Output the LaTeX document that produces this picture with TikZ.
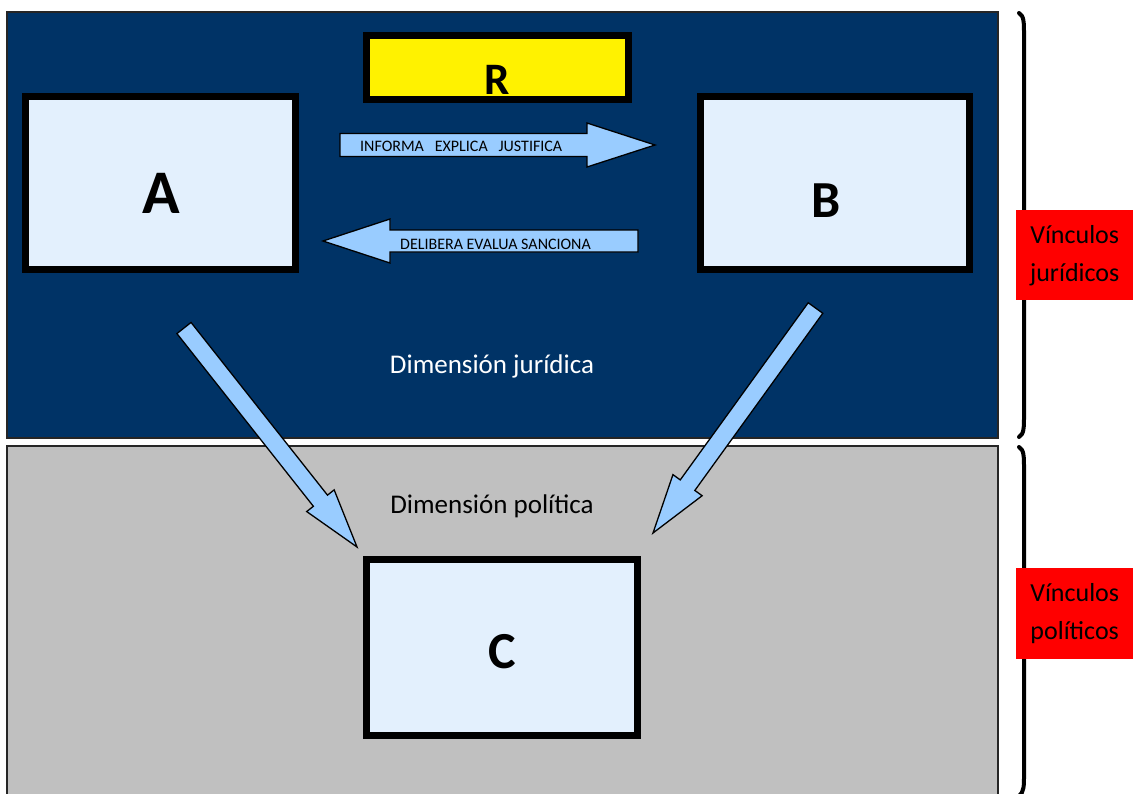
\documentclass[tikz,border=0pt]{standalone}
\usepackage{fontspec}
\setmainfont{Carlito}
\usetikzlibrary{calc}
\definecolor{navy}{RGB}{0,51,102}
\definecolor{boxfill}{RGB}{227,240,253}
\definecolor{arrfill}{RGB}{153,204,255}
\definecolor{panelgray}{RGB}{192,192,192}
\tikzset{
  panel/.style={draw=black!85, line width=1.2pt},
  bigbox/.style={draw=black, line width=7pt, fill=boxfill},
  barrow/.style={draw=black, line width=1.3pt, fill=arrfill, line join=miter},
  redlab/.style={fill=red, minimum width=117pt, minimum height=90pt, inner sep=0pt, align=center, font=\fontsize{26}{38}\selectfont},
  bracepath/.style={draw=black, line width=4pt, line cap=round},
  arrtext/.style={font=\fontsize{16}{16}\selectfont, anchor=base west, inner sep=0pt},
}
% block arrow: #1 tail, #2 tip, #3 shaft half width, #4 head half width, #5 head length
\newcommand{\blockarrow}[5]{%
  \path ($(#2)!#5!(#1)$) coordinate (hb);
  \draw[barrow]
    ($(#1)!#3!90:(#2)$) -- ($(hb)!#3!90:(#2)$) -- ($(hb)!#4!90:(#2)$) -- (#2)
    -- ($(hb)!#4!-90:(#2)$) -- ($(hb)!#3!-90:(#2)$) -- ($(#1)!#3!-90:(#2)$) -- cycle;
}
\begin{document}
\begin{tikzpicture}[x=1pt,y=-1pt]
\useasboundingbox (0,0) rectangle (1133,793);
% panels
\fill[white] (0,0) rectangle (1133,793);
\draw[panel, fill=navy] (7,12) rectangle (998,438);
\draw[panel, fill=panelgray] (7,446) rectangle (998,800);
% boxes
\draw[bigbox] (25.5,96.5) rectangle (295.5,269.5);
\node[font=\fontsize{62}{62}\selectfont\bfseries, anchor=base] (A) at (161,213) {A};
\draw[bigbox] (700.5,96.5) rectangle (969.5,269.5);
\node[font=\fontsize{52}{52}\selectfont\bfseries, anchor=base] (B) at (826,217) {B};
\draw[bigbox] (366.5,559.5) rectangle (637.5,735.5);
\node[font=\fontsize{52}{52}\selectfont\bfseries, anchor=base] (C) at (502,668) {C};
\draw[draw=black, line width=7pt, fill=yellow] (366.5,35.5) rectangle (628.5,99.5);
\node[font=\fontsize{45}{45}\selectfont\bfseries, anchor=base] (R) at (497,94) {R};
% labels
\node[text=white, font=\fontsize{27}{27}\selectfont, anchor=base] (dj) at (492,373) {Dimensión jurídica};
\node[text=black, font=\fontsize{27}{27}\selectfont, anchor=base] (dp) at (492,513) {Dimensión política};
% horizontal arrows
\coordinate (r1) at (340,145);
\coordinate (r2) at (655,145);
\blockarrow{r1}{r2}{11.5pt}{22pt}{68pt}
\node[arrtext] (t1) at (360,151) {INFORMA\ \ \ EXPLICA\ \ \ JUSTIFICA};
\coordinate (l1) at (638,241);
\coordinate (l2) at (323,241);
\blockarrow{l1}{l2}{11pt}{22pt}{67pt}
\node[arrtext] (t2) at (400,249) {DELIBERA EVALUA SANCIONA};
% diagonal arrows
\coordinate (d1) at (184,328);
\coordinate (d1t) at (357,547);
\blockarrow{d1}{d1t}{9pt}{17.5pt}{59pt}
\coordinate (d2) at (815.5,308);
\coordinate (d2t) at (653,533);
\blockarrow{d2}{d2t}{9pt}{18pt}{59pt}
% braces
\draw[bracepath] (1019,13) .. controls (1024,16) and (1024,22) .. (1024,35)
  -- (1024,212) .. controls (1024,220) and (1026,224) .. (1029,225)
  .. controls (1026,226) and (1024,230) .. (1024,238)
  -- (1024,415) .. controls (1024,428) and (1024,434) .. (1019,437);
\draw[bracepath] (1019,447) .. controls (1024,450) and (1024,456) .. (1024,469)
  -- (1024,606) .. controls (1024,614) and (1026,618) .. (1029,619)
  .. controls (1026,620) and (1024,624) .. (1024,632)
  -- (1024,775) .. controls (1024,786) and (1024,792) .. (1019,796);
% red labels
\node[redlab, anchor=north west] (vj) at (1016,210) {Vínculos\\jurídicos};
\node[redlab, anchor=north west, minimum height=91pt] (vp) at (1016,568) {Vínculos\\políticos};
\end{tikzpicture}
\end{document}
